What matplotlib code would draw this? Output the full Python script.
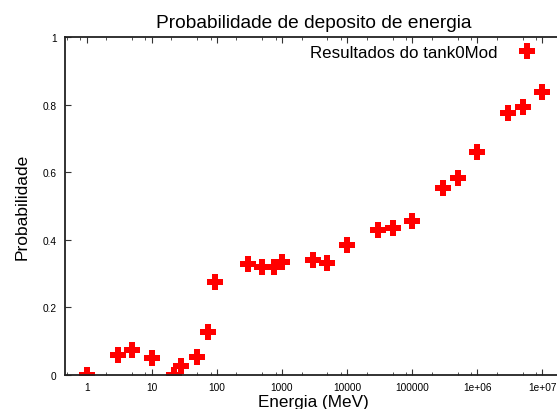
import matplotlib
matplotlib.use("Agg")
import matplotlib.pyplot as plt
from matplotlib.ticker import LogLocator, FixedLocator, FixedFormatter, NullFormatter

plt.rcParams['font.family'] = ['Liberation Sans', 'DejaVu Sans']

# Energy (MeV) and deposition probability
energia = [1, 3, 5, 10, 22, 28, 50, 72, 95, 300, 500, 750, 1000,
           3000, 5000, 1e4, 3e4, 5e4, 1e5, 3e5, 5e5, 1e6, 3e6, 5e6, 1e7]
probabilidade = [0.0, 0.059, 0.073, 0.050, 0.0, 0.027, 0.052, 0.126, 0.274,
                 0.328, 0.319, 0.319, 0.333, 0.340, 0.332, 0.386, 0.428,
                 0.434, 0.455, 0.554, 0.582, 0.661, 0.775, 0.794, 0.837]

xtick_vals = [1, 10, 100, 1000, 1e4, 1e5, 1e6, 1e7]
xtick_labels = ['1', '10', '100', '1000', '10000', '100000', '1e+06', '1e+07']
ytick_vals = [0, 0.2, 0.4, 0.6, 0.8, 1]
ytick_labels = ['0', '0.2', '0.4', '0.6', '0.8', '1']

W, H = 557, 410
fig = plt.figure(figsize=(W / 100, H / 100), dpi=100)
left_px, right_px, bottom_px, top_px = 65, 562, 376, 38
ax = fig.add_axes([left_px / W, 1 - bottom_px / H,
                   (right_px - left_px) / W, (bottom_px - top_px) / H])

ax.plot(energia, probabilidade, linestyle='none', marker='P', markersize=11.5,
        color='#ff0000', markeredgewidth=0, label='Resultados do tank0Mod')

ax.set_xscale('log')
ax.set_xlim(0.465, 2e7)
ax.set_ylim(0, 1)

ax.xaxis.set_major_locator(FixedLocator(xtick_vals))
ax.xaxis.set_major_formatter(FixedFormatter(xtick_labels))
ax.xaxis.set_minor_locator(LogLocator(base=10, subs=(2, 5, 8), numticks=30))
ax.xaxis.set_minor_formatter(NullFormatter())
ax.yaxis.set_major_locator(FixedLocator(ytick_vals))
ax.yaxis.set_major_formatter(FixedFormatter(ytick_labels))

ax.tick_params(axis='both', which='major', direction='in', length=4.5, width=0.8,
               labelsize=7.3, colors='#333333', labelcolor='black')
ax.tick_params(axis='both', which='minor', direction='in', length=2.5, width=0.6,
               colors='#333333')
ax.tick_params(axis='x', which='both', top=True, pad=5)
ax.tick_params(axis='y', which='both', right=False, pad=6)

for side in ['left', 'bottom', 'top']:
    ax.spines[side].set_linewidth(1.3)
    ax.spines[side].set_color('#222222')
ax.spines['right'].set_visible(False)

ax.set_title('Probabilidade de deposito de energia', fontsize=13.8, pad=7.5)
ax.set_xlabel('Energia (MeV)', fontsize=12.3, labelpad=1.5)
ax.set_ylabel('Probabilidade', fontsize=12.5, labelpad=9)

ax.legend(loc='center right', bbox_to_anchor=(543.7 / W, 1 - 53 / H),
          bbox_transform=fig.transFigure, frameon=False, markerfirst=False,
          borderpad=0, borderaxespad=0, handlelength=2, handletextpad=0.7,
          fontsize=12.2, numpoints=1)

fig.savefig('out.png', dpi=100)
